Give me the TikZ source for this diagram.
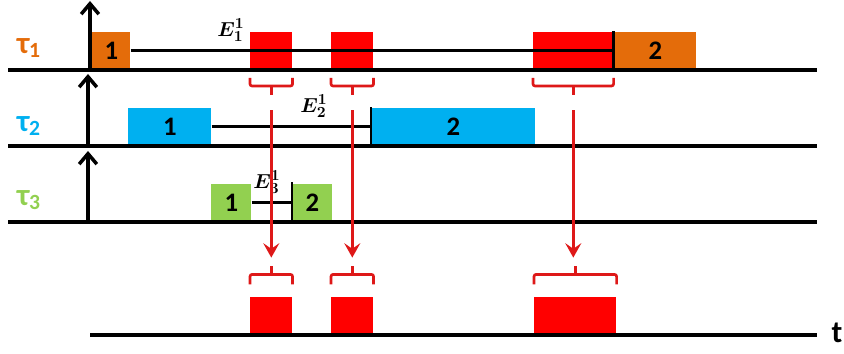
\documentclass[tikz,border=0pt]{standalone}
\usepackage{fontspec}
\setmainfont{Carlito}
\usepackage{bm}
\usepackage{tikz}
\usepackage{xcolor}
\usetikzlibrary{arrows.meta}
\definecolor{joborange}{RGB}{228,108,10}
\definecolor{jobblue}{RGB}{0,176,240}
\definecolor{jobgreen}{RGB}{146,208,80}
\definecolor{lockred}{RGB}{255,0,0}
\definecolor{linkred}{RGB}{222,24,24}
\tikzstyle{job} = [rectangle, inner sep=0pt, minimum height=0.95cm, anchor=south west, text centered, font=\fontsize{19}{19}\selectfont\bfseries]
\tikzstyle{lock} = [job, fill=lockred]
\tikzstyle{task} = [font=\fontsize{22}{22}\selectfont\bfseries]
\tikzstyle{elabel} = [font=\fontsize{15}{15}\selectfont, inner sep=0pt]
\tikzstyle{axis} = [line width=2.8pt]
\tikzstyle{eline} = [line width=2pt]
\tikzstyle{release} = [line width=2.5pt,-{Straight Barb[length=2.6mm,width=4.4mm]}]
\tikzstyle{brace} = [linkred, line width=1.9pt, rounded corners=1.5pt]
\tikzstyle{arrow} = [linkred, line width=2.1pt, -{Stealth[length=3.6mm,width=4mm,inset=1.4mm]}]

\begin{document}
\begin{tikzpicture}[x=0.025cm, y=-0.025cm]
    \useasboundingbox (0,0) rectangle (844,354);

    \node (o1) [job, fill=joborange, minimum width=0.95cm] at (92,70) {1};
    \node (ra) [lock, minimum width=1.05cm] at (250,70) {};
    \node (rb) [lock, minimum width=1.05cm] at (331,70) {};
    \node (rc) [lock, minimum width=2.0cm] at (533,70) {};
    \node (o2) [job, fill=joborange, minimum width=2.05cm] at (614,70) {2};

    \node (b1) [job, fill=jobblue, minimum width=2.075cm] at (128,146) {1};
    \node (b2) [job, fill=jobblue, minimum width=4.1cm] at (371,146) {2};

    \node (g1) [job, fill=jobgreen, minimum width=1.0cm] at (211,222) {1};
    \node (g2) [job, fill=jobgreen, minimum width=1.0cm] at (292,222) {2};

    \node (qa) [lock, minimum width=1.05cm] at (250,335) {};
    \node (qb) [lock, minimum width=1.05cm] at (331,335) {};
    \node (qc) [lock, minimum width=2.05cm] at (534,335) {};

    \node (tau1) [task, text=joborange] at (29,48) {τ\textsubscript{1}};
    \node (tau2) [task, text=jobblue] at (29,126) {τ\textsubscript{2}};
    \node (tau3) [task, text=jobgreen] at (29,200) {τ\textsubscript{3}};
    \node (time) [font=\fontsize{22}{22}\selectfont\bfseries] at (837,333) {t};

    \node (e1) [elabel] at (231,30) {$\bm{E_1^1}$};
    \node (e2) [elabel] at (314,106) {$\bm{E_2^1}$};
    \node (e3) [elabel] at (267,182) {$\bm{E_3^1}$};

    \coordinate (l1w) at (8,70);   \coordinate (l1e) at (817,70);
    \coordinate (l2w) at (8,146);  \coordinate (l2e) at (817,146);
    \coordinate (l3w) at (8,222);  \coordinate (l3e) at (817,222);
    \coordinate (l4w) at (90,335); \coordinate (l4e) at (817,335);
    \coordinate (up1) at (90,70);  \coordinate (top1) at (90,1);
    \coordinate (up2) at (88,146); \coordinate (top2) at (88,74);
    \coordinate (up3) at (88,222); \coordinate (top3) at (88,151);

    \draw [eline] (o1.east) -- (rc.east);
    \draw [eline] (rc.north east) -- (rc.south east);
    \draw [eline] (b1.east) -- (b2.west);
    \draw [eline] (b2.north west) -- (b2.south west);
    \draw [eline] (g1.east) -- (g2.west);
    \draw [eline] ([yshift=0.03cm]g2.north west) -- (g2.south west);

    \draw [axis] (l1w) -- (l1e);
    \draw [axis] (l2w) -- (l2e);
    \draw [axis] (l3w) -- (l3e);
    \draw [axis] (l4w) -- (l4e);
    \draw [release] (up1) -- (top1);
    \draw [release] (up2) -- (top2);
    \draw [release] (up3) -- (top3);

    \foreach \r/\q in {ra/qa, rb/qb, rc/qc} {
        \draw [brace] ([yshift=-0.2cm]\r.south west) -- ([yshift=-0.4cm]\r.south west) -- ([yshift=-0.4cm]\r.south east) -- ([yshift=-0.2cm]\r.south east);
        \draw [brace] ([yshift=-0.4cm]\r.south) -- ([yshift=-0.62cm]\r.south);
        \draw [brace] ([yshift=0.3cm]\q.north west) -- ([yshift=0.55cm]\q.north west) -- ([yshift=0.55cm]\q.north east) -- ([yshift=0.3cm]\q.north east);
        \draw [brace] ([yshift=0.55cm]\q.north) -- ([yshift=0.75cm]\q.north);
        \draw [arrow] ([yshift=-1cm]\r.south) -- ([yshift=0.97cm]\r.south |- \q.north);
    }
\end{tikzpicture}
\end{document}
